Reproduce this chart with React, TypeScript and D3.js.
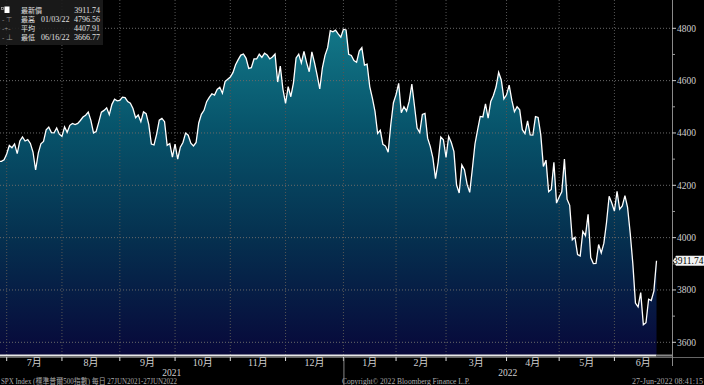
import React from "react";
import * as d3 from "d3";

// SPX daily closes, grouped by month (Jun 28 2021 .. Jun 24 2022)
const jun21 = [4290.61, 4291.8, 4297.5];
const jul21 = [4319.94, 4352.34, 4343.54, 4358.13, 4320.82, 4369.55, 4384.63, 4369.21, 4374.3, 4360.03, 4327.16, 4258.49, 4323.06, 4358.69, 4367.48, 4411.79, 4422.3, 4401.46, 4400.64, 4419.15, 4395.26];
const aug21 = [4387.16, 4423.15, 4402.66, 4429.1, 4436.52, 4432.35, 4436.75, 4447.7, 4460.83, 4468.0, 4479.71, 4448.08, 4400.27, 4405.8, 4441.67, 4479.53, 4486.23, 4496.19, 4470.0, 4509.37, 4528.79, 4522.68];
const sep21 = [4524.09, 4536.95, 4535.43, 4520.03, 4514.07, 4493.28, 4458.58, 4468.73, 4443.05, 4480.7, 4473.75, 4432.99, 4357.73, 4354.19, 4395.64, 4448.98, 4455.48, 4443.11, 4352.63, 4359.46, 4307.54];
const oct21 = [4357.04, 4300.46, 4345.72, 4363.55, 4399.76, 4391.34, 4361.19, 4350.65, 4363.8, 4438.26, 4471.37, 4486.46, 4519.63, 4536.19, 4549.78, 4544.9, 4566.48, 4574.79, 4551.68, 4596.42, 4605.38];
const nov21 = [4613.67, 4630.65, 4660.57, 4680.06, 4697.53, 4701.7, 4685.25, 4646.71, 4649.27, 4682.85, 4682.8, 4700.9, 4688.67, 4704.54, 4697.96, 4682.94, 4690.7, 4701.46, 4594.62, 4655.27, 4567.0];
const dec21 = [4513.04, 4577.1, 4538.43, 4591.67, 4686.75, 4701.21, 4667.45, 4712.02, 4668.97, 4634.09, 4709.85, 4668.67, 4620.64, 4568.02, 4649.23, 4696.56, 4725.79, 4791.19, 4786.35, 4793.06, 4778.73, 4766.18];
const jan22 = [4796.56, 4793.54, 4700.58, 4696.05, 4677.03, 4670.29, 4713.07, 4726.35, 4659.03, 4662.85, 4577.11, 4532.76, 4482.73, 4397.94, 4410.13, 4356.45, 4349.93, 4326.51, 4431.85, 4515.55];
const feb22 = [4546.54, 4589.38, 4477.44, 4500.53, 4483.87, 4521.54, 4587.18, 4504.08, 4418.64, 4401.67, 4471.07, 4475.01, 4380.26, 4348.87, 4304.76, 4225.5, 4288.7, 4384.65, 4373.94];
const mar22 = [4306.26, 4386.54, 4363.49, 4328.87, 4201.09, 4170.7, 4277.88, 4259.52, 4204.31, 4173.11, 4262.45, 4357.86, 4411.67, 4463.12, 4461.18, 4511.61, 4456.24, 4520.16, 4543.06, 4575.52, 4631.6, 4602.45, 4530.41];
const apr22 = [4545.86, 4582.64, 4525.12, 4481.15, 4500.21, 4488.28, 4412.53, 4397.45, 4446.59, 4392.59, 4391.69, 4462.21, 4459.45, 4393.66, 4271.78, 4296.12, 4175.2, 4183.96, 4287.5, 4131.93];
const may22 = [4155.38, 4175.48, 4300.17, 4146.87, 4123.34, 3991.24, 4001.05, 3935.18, 3930.08, 4023.89, 4008.01, 4088.85, 3923.68, 3900.79, 3901.36, 3973.75, 3941.48, 3978.73, 4057.84, 4158.24, 4132.15];
const jun22 = [4101.23, 4176.82, 4108.54, 4121.43, 4160.68, 4115.77, 4017.82, 3900.86, 3749.63, 3735.48, 3789.99, 3666.77, 3674.84, 3764.79, 3759.89, 3795.73, 3911.74];

const monthData = [jun21, jul21, aug21, sep21, oct21, nov21, dec21, jan22, feb22, mar22, apr22, may22, jun22];
const monthLabels = ["", "7月", "8月", "9月", "10月", "11月", "12月", "1月", "2月", "3月", "4月", "5月", "6月"];
const yearLabels = ["2021", "2022"];
const yTicks = [3600, 3800, 4000, 4200, 4400, 4600, 4800];
const yMinor = [3700, 3900, 4100, 4300, 4500, 4700];

const legendRows = [
  { icon: "", name: "最新價", date: "", value: "3911.74" },
  { icon: "- ⊤", name: "最高", date: "01/03/22", value: "4796.56" },
  { icon: "-+-", name: "平均", date: "", value: "4407.91" },
  { icon: "- ⊥", name: "最低", date: "06/16/22", value: "3666.77" },
];

const W = 704, H = 385;
const plotRight = 672, plotBottom = 355;
const font = "'Liberation Serif', 'Noto Sans CJK TC', serif";

export default function App() {
  const closes = monthData.flat();
  const x = d3.scaleLinear().domain([0, closes.length - 1]).range([-1.2, 656.5]);
  const y = d3.scaleLinear().domain([3600, 4800]).range([342.3, 28.3]);

  // month start indices
  const starts: number[] = [];
  let acc = 0;
  monthData.forEach((m) => { starts.push(acc); acc += m.length; });
  const janIdx = starts[7];

  const line = d3.line<number>().x((_, i) => x(i)).y((d) => y(d));
  const area = d3.area<number>().x((_, i) => x(i)).y0(plotBottom).y1((d) => y(d));
  const last = closes[closes.length - 1];
  const lastX = x(closes.length - 1);
  const ty = y(last);

  return (
    <svg width={W} height={H} style={{ position: "fixed", left: 0, top: 0, background: "#000" }}>
      <defs>
        <linearGradient id="fillg" gradientUnits="userSpaceOnUse" x1="0" y1="20" x2="0" y2={plotBottom}>
          <stop offset="0" stopColor="#137a8a" />
          <stop offset="0.32" stopColor="#07546b" />
          <stop offset="0.65" stopColor="#05304f" />
          <stop offset="1" stopColor="#08083a" />
        </linearGradient>
      </defs>
      <rect width={W} height={H} fill="#000" />
      <path d={area(closes) || ""} fill="url(#fillg)" />
      {/* grid */}
      {yTicks.map((t) => (
        <line key={t} x1={0} x2={plotRight} y1={y(t)} y2={y(t)} stroke="#6a6a6a" strokeDasharray="1,2" />
      ))}
      {starts.slice(1).map((s) => (
        <line key={s} x1={x(s)} x2={x(s)} y1={0} y2={plotBottom} stroke="#555" strokeDasharray="1,2" />
      ))}
      <path d={line(closes) || ""} fill="none" stroke="#fff" strokeWidth={1.3} />

      {/* bottom bar */}
      <line x1={0} x2={W} y1={357.5} y2={357.5} stroke="#666" />
      <rect x={0} y={354.5} width={lastX} height={2} fill="#e8e8e8" />
      <rect x={lastX} y={354.5} width={plotRight - lastX} height={2} fill="#888" />

      {/* right axis */}
      <line x1={plotRight + 0.5} x2={plotRight + 0.5} y1={0} y2={366} stroke="#8a8a8a" />
      {yTicks.map((t) => (
        <g key={t}>
          <line x1={plotRight} x2={plotRight + 4} y1={y(t)} y2={y(t)} stroke="#ccc" />
          <text x={677} y={y(t) + 3.5} fill="#cfcfcf" fontSize={9.5} fontFamily={font}>{t}</text>
        </g>
      ))}
      {yMinor.map((t) => (
        <line key={t} x1={plotRight} x2={plotRight + 3} y1={y(t)} y2={y(t)} stroke="#999" />
      ))}
      <path d={`M${plotRight + 1},${ty} L${plotRight + 4},${ty - 5} H${W} V${ty + 5} H${plotRight + 4} Z`} fill="#f2f2f2" />
      <text x={W - 0.5} y={ty + 3.5} textAnchor="end" fill="#000" fontSize={9.5} fontFamily={font}>{last.toFixed(2)}</text>

      {/* month axis */}
      {starts.slice(1).map((s) => (
        <line key={s} x1={x(s)} x2={x(s)} y1={357} y2={361} stroke="#ddd" />
      ))}
      {monthLabels.map((m, i) => {
        if (!m) return null;
        const a = x(starts[i]);
        const b = i + 1 < starts.length ? x(starts[i + 1]) : plotRight;
        return (
          <text key={m} x={(a + b) / 2} y={366} textAnchor="middle" fill="#d0d0d0" fontSize={10} fontFamily={font}>{m}</text>
        );
      })}
      <line x1={x(janIdx) + 0.5} x2={x(janIdx) + 0.5} y1={358} y2={H} stroke="#888" />
      <text x={x(janIdx) / 2} y={376} textAnchor="middle" fill="#d0d0d0" fontSize={9.5} fontFamily={font}>{yearLabels[0]}</text>
      <text x={(x(janIdx) + plotRight) / 2} y={376} textAnchor="middle" fill="#d0d0d0" fontSize={9.5} fontFamily={font}>{yearLabels[1]}</text>

      {/* footer */}
      <text x={1} y={383.5} fill="#aaa" fontSize={8} fontFamily={font} textLength={176} lengthAdjust="spacingAndGlyphs">SPX Index (標準普爾500指數) 每日 27JUN2021-27JUN2022</text>
      <text x={342} y={383.5} fill="#aaa" fontSize={8} fontFamily={font} textLength={128} lengthAdjust="spacingAndGlyphs">Copyright© 2022 Bloomberg Finance L.P.</text>
      <text x={703} y={383.5} textAnchor="end" fill="#aaa" fontSize={8} fontFamily={font}>27-Jun-2022 08:41:15</text>

      {/* legend */}
      <rect x={0} y={0} width={103} height={45} fill="#1c1c1c" opacity={0.9} />
      <rect x={1.5} y={7.5} width={2} height={2} fill="none" stroke="#aaa" strokeWidth={0.7} />
      <rect x={4.5} y={6.5} width={5} height={6.5} fill="#fff" />
      {legendRows.map((r, i) => {
        const by = 13 + i * 9;
        return (
          <g key={r.name} fontFamily={font} fontSize={8}>
            {r.icon && <text x={2} y={by} fill="#999" fontSize={7}>{r.icon}</text>}
            <text x={21} y={by} fill="#e0e0e0" fontSize={7}>{r.name}</text>
            {r.date && <text x={41} y={by} fill="#e0e0e0">{r.date}</text>}
            <text x={100} y={by} textAnchor="end" fill="#e0e0e0">{r.value}</text>
          </g>
        );
      })}
    </svg>
  );
}
